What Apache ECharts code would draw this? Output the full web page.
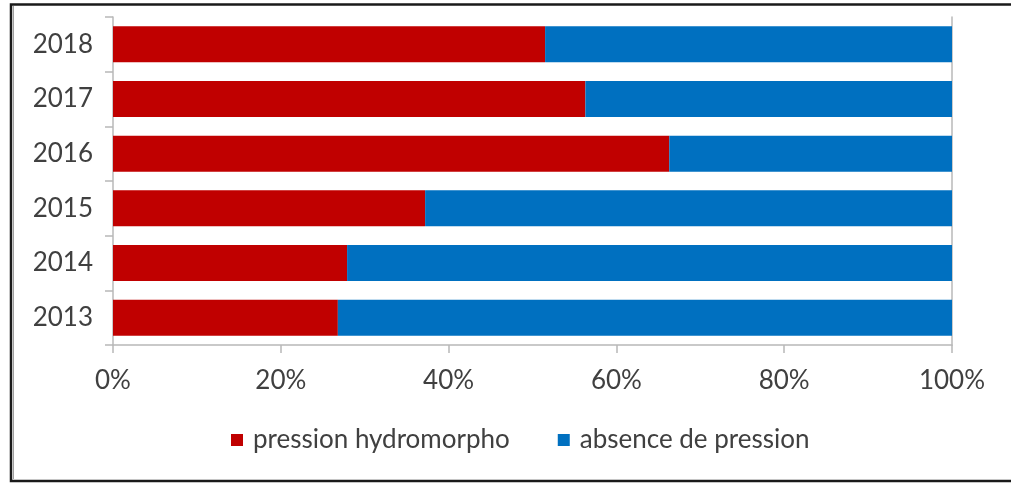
<!DOCTYPE html>
<html>
<head>
<meta charset="utf-8">
<script src="https://cdn.jsdelivr.net/npm/echarts@6/dist/echarts.min.js"></script>
<style>
html,body{margin:0;padding:0;background:#fff;}
#chart{width:1011px;height:483px;}
</style>
</head>
<body>
<div id="chart"></div>
<script>
const years = ['2013', '2014', '2015', '2016', '2017', '2018'];
const pressionHydromorpho = [26.8, 27.9, 37.2, 66.3, 56.3, 51.5];
const absencePression = [73.2, 72.1, 62.8, 33.7, 43.7, 48.5];
const xTicks = [0, 20, 40, 60, 80, 100];

const font = 'Lato, "Open Sans", sans-serif';
const textColor = '#404040';
const axisGray = '#b8b8b8';

const chart = echarts.init(document.getElementById('chart'), null, {renderer: 'canvas'});
chart.setOption({
  animation: false,
  backgroundColor: '#fff',
  graphic: [{
    type: 'polyline', silent: true,
    shape: {points: [[1030, 481], [11, 481], [11, 4.5], [1030, 4.5]]},
    style: {fill: 'none', stroke: '#1a1a1a', lineWidth: 2.5}
  }, {
    type: 'polyline', silent: true,
    shape: {points: [[13.5, 479], [13.5, 6]]},
    style: {fill: 'none', stroke: '#a0a0a0', lineWidth: 1}
  }],
  grid: {left: 113, right: 59, top: 17, bottom: 138, containLabel: false},
  legend: {
    bottom: 25, left: 226,
    itemWidth: 12, itemHeight: 12, itemGap: 48,
    icon: 'rect',
    textStyle: {fontFamily: font, fontSize: 26, color: textColor, padding: [0, 0, 0, 5]},
    data: ['pression hydromorpho', 'absence de pression']
  },
  xAxis: {
    type: 'value', min: xTicks[0], max: xTicks[xTicks.length - 1], interval: 20,
    axisLine: {show: true, lineStyle: {color: axisGray, width: 1.5}},
    axisTick: {show: true, length: 8, lineStyle: {color: axisGray, width: 1.5}},
    splitLine: {show: false},
    axisLabel: {formatter: '{value}%', fontFamily: font, fontSize: 26, color: textColor, margin: 23}
  },
  yAxis: [{
    type: 'category', data: years,
    axisLine: {show: true, lineStyle: {color: axisGray, width: 1.5}},
    axisTick: {show: true, length: 8, lineStyle: {color: axisGray, width: 1.5}},
    axisLabel: {fontFamily: font, fontSize: 26, color: textColor, margin: 20}
  }, {
    type: 'category', data: years, position: 'right',
    axisLine: {show: true, lineStyle: {color: axisGray, width: 1.5}},
    axisTick: {show: false}, axisLabel: {show: false}
  }],
  series: [{
    name: 'pression hydromorpho', type: 'bar', stack: 'total',
    data: pressionHydromorpho, barCategoryGap: '34%',
    itemStyle: {color: '#C00000'}
  }, {
    name: 'absence de pression', type: 'bar', stack: 'total',
    data: absencePression, barCategoryGap: '34%',
    itemStyle: {color: '#0070C0'}
  }]
});
</script>
</body>
</html>
